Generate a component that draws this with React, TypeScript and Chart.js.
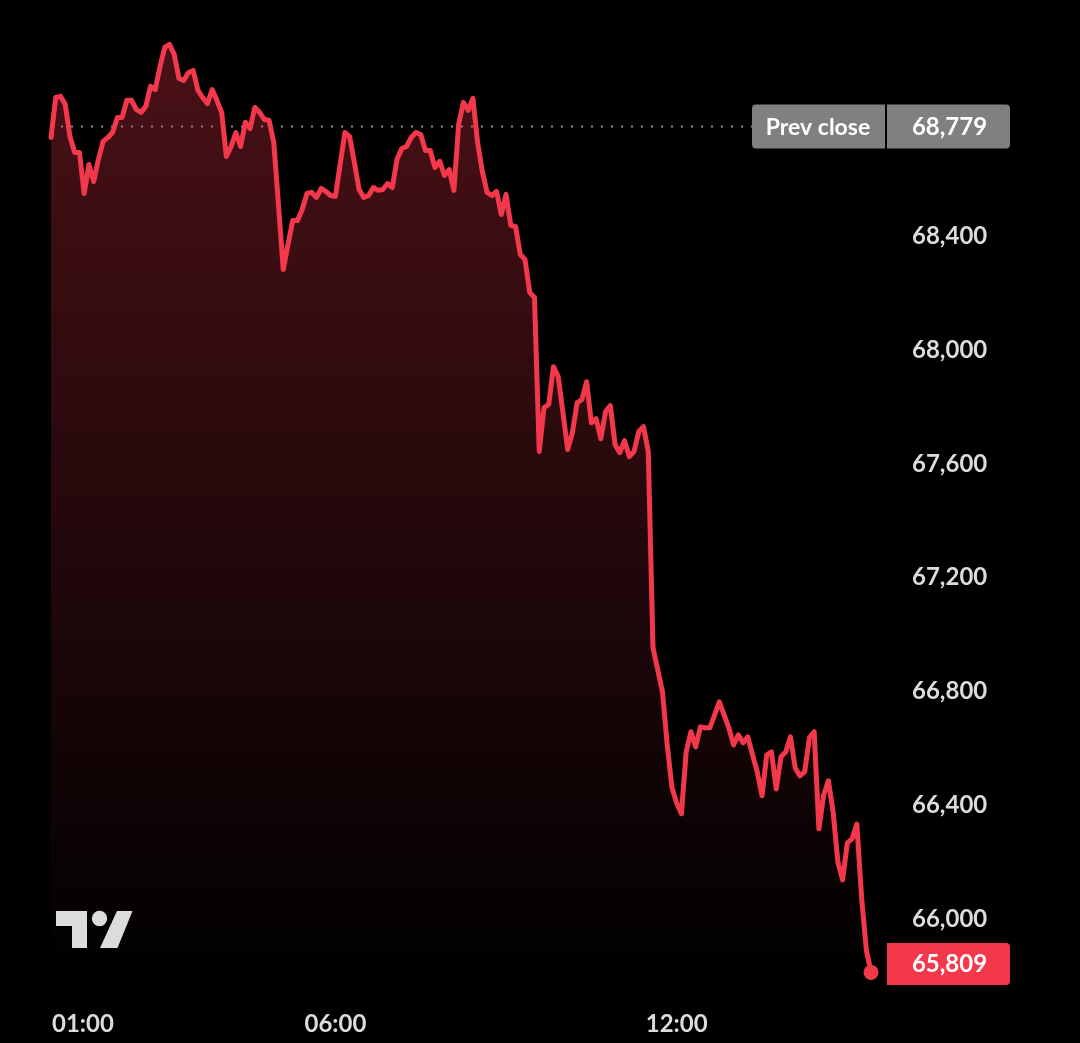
import React, { useEffect, useRef } from "react";
import { Chart, registerables } from "chart.js";

Chart.register(...registerables);

const prices = [
  68741, 68881, 68885, 68857, 68744, 68688, 68688, 68544, 68646, 68586,
  68664, 68727, 68741, 68758, 68811, 68811, 68871, 68871, 68839, 68829,
  68850, 68920, 68909, 68990, 69057, 69068, 69032, 68948, 68941, 68969,
  68976, 68906, 68881, 68860, 68909, 68871, 68829, 68674, 68709, 68758,
  68709, 68794, 68772, 68846, 68829, 68804, 68801, 68723, 68502, 68277,
  68365, 68449, 68449, 68488, 68544, 68548, 68530, 68562, 68551, 68537,
  68534, 68646, 68758, 68744, 68653, 68558, 68530, 68537, 68565, 68555,
  68558, 68579, 68565, 68664, 68702, 68709, 68741, 68758, 68751, 68695,
  68695, 68635, 68657, 68607, 68628, 68555, 68787, 68864, 68836, 68878,
  68723, 68621, 68548, 68537, 68551, 68470, 68541, 68432, 68428, 68330,
  68312, 68196, 68179, 67638, 67792, 67803, 67936, 67901, 67775, 67645,
  67704, 67810, 67820, 67883, 67739, 67753, 67683, 67778, 67799, 67662,
  67634, 67676, 67620, 67638, 67708, 67725, 67638, 66949, 66872, 66794,
  66608, 66457, 66404, 66366, 66583, 66654, 66601, 66671, 66668, 66668,
  66713, 66759, 66713, 66668, 66608, 66643, 66615, 66636, 66573, 66513,
  66429, 66573, 66583, 66453, 66566, 66583, 66636, 66527, 66499, 66513,
  66633, 66654, 66313, 66432, 66482, 66373, 66197, 66134, 66264, 66278,
  66330, 66074, 65888, 65809,
];
const startMinute = 60;
const stepMinute = 5;
const minuteAxisMax = 945;
const priceAxisMin = 65764.7;
const priceAxisMax = 69123.7;
const priceTicks = [66000, 66400, 66800, 67200, 67600, 68000, 68400];
const timeTicks = [60, 360, 720];
const timeLabels = ["01:00", "06:00", "12:00"];
const prevClose = 68779;
const lastPrice = 65809;

const RED = "#F4384B";
const FONT = "Lato, sans-serif";
const TICK_COLOR = "#dcdcdc";

function roundedRect(c: CanvasRenderingContext2D, x: number, y: number, w: number, h: number, radii: number[], fill: string) {
  c.beginPath();
  c.roundRect(x, y, w, h, radii);
  c.fillStyle = fill;
  c.fill();
}

const overlay = {
  id: "overlay",
  afterDraw(chart: any) {
    const c: CanvasRenderingContext2D = chart.ctx;
    const xs = chart.scales.x;
    const ys = chart.scales.y;
    c.save();

    // time axis labels (the first one starts at the plot edge)
    c.font = `700 24px ${FONT}`;
    c.fillStyle = TICK_COLOR;
    c.textBaseline = "middle";
    timeTicks.forEach((t, i) => {
      c.textAlign = i === 0 ? "left" : "center";
      const x = xs.getPixelForValue(t) + (i === 0 ? 1 : 0);
      c.fillText(timeLabels[i], x, 1024);
    });

    // previous close badge
    const pcY = ys.getPixelForValue(prevClose);
    roundedRect(c, 752, pcY - 22, 133, 44, [4, 0, 0, 4], "#808080");
    roundedRect(c, 887, pcY - 22, 123, 44, [0, 4, 4, 0], "#808080");
    c.fillStyle = "#ffffff";
    c.textAlign = "center";
    c.font = `700 23px ${FONT}`;
    c.fillText("Prev close", 818, pcY + 1);
    c.font = `700 24px ${FONT}`;
    c.fillText(prevClose.toLocaleString("en-US"), 949.5, pcY + 1);

    // last price badge
    const lpY = ys.getPixelForValue(lastPrice);
    roundedRect(c, 887, lpY - 29.5, 123, 42, [0, 4, 4, 0], RED);
    c.fillStyle = "#ffffff";
    c.fillText(lastPrice.toLocaleString("en-US"), 949.5, lpY - 8);

    // TradingView mark
    c.fillStyle = "#dcdcdc";
    c.beginPath();
    c.moveTo(56, 911);
    c.lineTo(87, 911);
    c.lineTo(87, 948);
    c.lineTo(72, 948);
    c.lineTo(72, 926);
    c.lineTo(56, 926);
    c.closePath();
    c.fill();
    c.beginPath();
    c.arc(99.5, 918.5, 7.7, 0, Math.PI * 2);
    c.fill();
    c.beginPath();
    c.moveTo(117, 911);
    c.lineTo(132.5, 911);
    c.lineTo(117.5, 948);
    c.lineTo(100, 948);
    c.closePath();
    c.fill();
    c.restore();
  },
};

export default function App() {
  const ref = useRef<HTMLCanvasElement | null>(null);

  useEffect(() => {
    if (!ref.current) return;
    const chart = new Chart(ref.current, {
      type: "line",
      plugins: [overlay],
      data: {
        datasets: [
          {
            data: prices.map((p, i) => ({ x: startMinute + i * stepMinute, y: p })),
            borderColor: RED,
            borderWidth: 5,
            borderJoinStyle: "round",
            borderCapStyle: "round",
            tension: 0,
            fill: "start",
            backgroundColor: (ctx: any) => {
              const g = ctx.chart.ctx.createLinearGradient(0, 45, 0, 985);
              g.addColorStop(0, "rgba(244,56,75,0.3)");
              g.addColorStop(1, "rgba(244,56,75,0)");
              return g;
            },
            pointRadius: (ctx: any) => (ctx.dataIndex === prices.length - 1 ? 7.5 : 0),
            pointBackgroundColor: RED,
            pointBorderWidth: 0,
            clip: false,
          },
          {
            data: [
              { x: startMinute, y: prevClose },
              { x: minuteAxisMax, y: prevClose },
            ],
            borderColor: "#8a8a8a",
            borderWidth: 2,
            borderDash: [2, 8],
            pointRadius: 0,
            fill: false,
          },
        ],
      } as any,
      options: {
        responsive: false,
        animation: false,
        events: [],
        layout: { padding: { left: 51, top: 20, right: 0, bottom: 0 } },
        plugins: { legend: { display: false }, tooltip: { enabled: false } },
        scales: {
          x: {
            type: "linear",
            min: startMinute,
            max: minuteAxisMax,
            grid: { display: false },
            border: { display: false },
            ticks: { display: false },
            afterFit: (s: any) => {
              s.height = 58;
            },
          },
          y: {
            type: "linear",
            position: "right",
            min: priceAxisMin,
            max: priceAxisMax,
            grid: { display: false },
            border: { display: false },
            afterBuildTicks: (s: any) => {
              s.ticks = priceTicks.map((value) => ({ value }));
            },
            afterFit: (s: any) => {
              s.width = 190;
            },
            ticks: {
              color: TICK_COLOR,
              padding: 14,
              labelOffset: 1.5,
              font: { family: "Lato", size: 24, weight: "700" },
              callback: (v: any) => Number(v).toLocaleString("en-US"),
            },
          },
        },
      } as any,
    });
    return () => chart.destroy();
  }, []);

  return (
    <div style={{ position: "fixed", left: 0, top: 0, width: 1080, height: 1043, background: "#000" }}>
      <canvas ref={ref} width={1080} height={1043} style={{ display: "block" }} />
    </div>
  );
}
